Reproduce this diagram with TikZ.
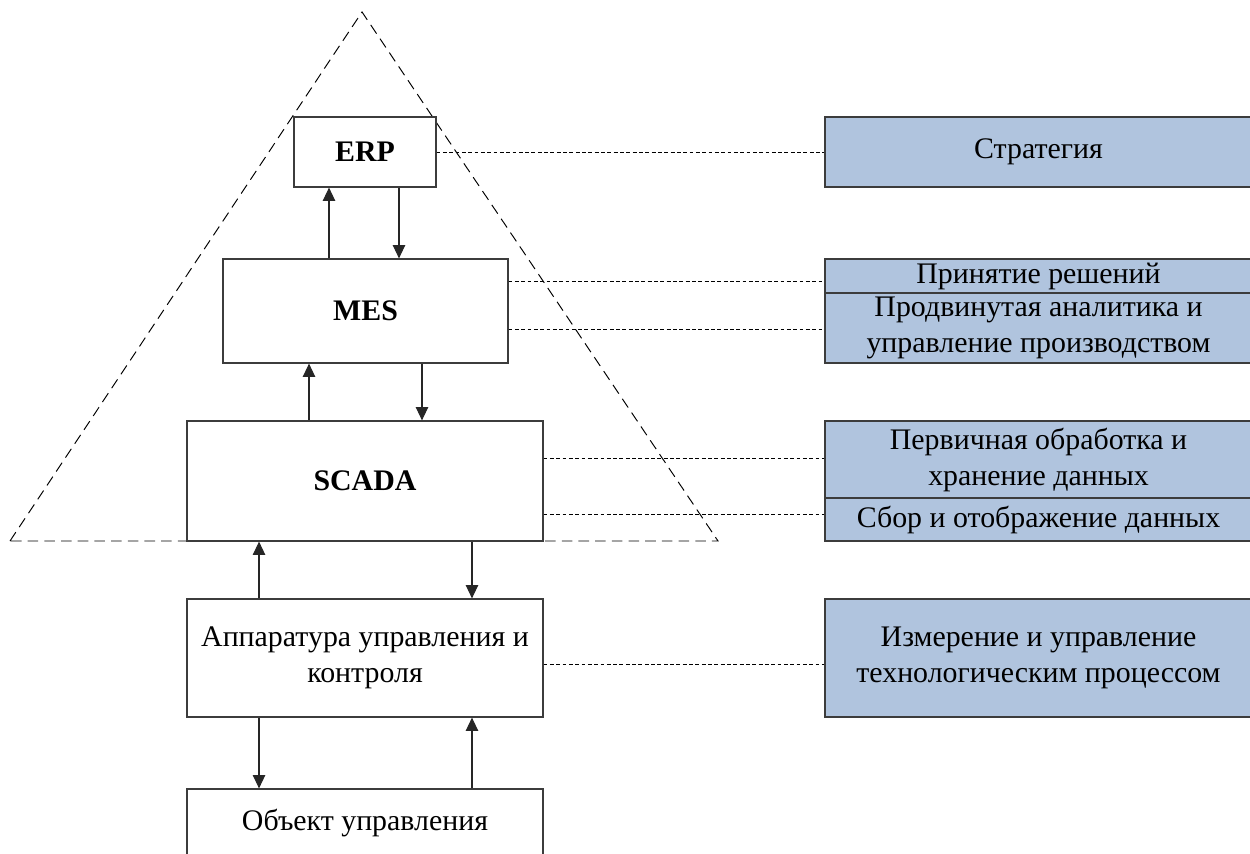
\documentclass[tikz,border=0pt]{standalone}
\usepackage{fontspec}
\setmainfont{Liberation Serif}
\usetikzlibrary{arrows.meta,calc}
\definecolor{blueF}{RGB}{176,196,222}
\definecolor{edgeC}{RGB}{60,60,60}
\tikzset{
  box/.style={draw=edgeC, line width=0.7pt, fill=white, inner sep=0pt, align=center, font=\fontsize{17}{20.5}\selectfont},
  rbox/.style={draw=edgeC, line width=0.7pt, fill=blueF, inner sep=0pt, align=center, minimum width=8.54cm, font=\fontsize{17}{20.5}\selectfont},
  arr/.style={draw=black!85, line width=0.6pt, -{Triangle[length=7.5pt,width=7pt]}},
  dline/.style={draw=black, line width=0.5pt, dash pattern=on 2.2pt off 1.4pt},
  tri/.style={draw=black, line width=0.55pt, dash pattern=on 6pt off 3.5pt}
}
\begin{document}
\begin{tikzpicture}[x=0.02cm,y=-0.02cm]
\useasboundingbox (0,0) rectangle (1250,854);
% pyramid
\coordinate (apex) at (362,12);
\coordinate (bl) at (10,541);
\coordinate (br) at (718,541);
\draw[tri] (bl) -- (apex) -- (br) -- cycle;
% left boxes
\node[box, minimum width=2.84cm, minimum height=1.4cm, font=\fontsize{17}{20.5}\selectfont\bfseries] (erp) at (365,152) {ERP};
\node[box, minimum width=5.7cm, minimum height=2.08cm, font=\fontsize{17}{20.5}\selectfont\bfseries] (mes) at (365.5,311) {MES};
\node[box, minimum width=7.12cm, minimum height=2.4cm, font=\fontsize{17}{20.5}\selectfont\bfseries] (scada) at (365,481) {SCADA};
\node[box, minimum width=7.12cm, minimum height=2.36cm] (app) at (365,658) {Аппаратура управления и\\контроля};
\node[box, minimum width=7.12cm, minimum height=1.38cm] (obj) at (365,823.5) {Объект управления};
% right boxes
\node[rbox, minimum height=1.4cm] (strat) at (1038.5,152) {Стратегия};
\node[rbox, minimum height=0.68cm] (prin) at (1038.5,276) {Принятие решений};
\node[rbox, minimum height=1.4cm] (prod) at (1038.5,328) {Продвинутая аналитика и\\управление производством};
\node[rbox, minimum height=1.54cm] (perv) at (1038.5,459.5) {Первичная обработка и\\хранение данных};
\node[rbox, minimum height=0.86cm] (sbor) at (1038.5,519.5) {Сбор и отображение данных};
\node[rbox, minimum height=2.36cm] (izm) at (1038.5,658) {Измерение и управление\\технологическим процессом};
% dashed links
\coordinate (c1) at ([yshift=-0.1cm]prin.west);
\coordinate (c2) at ([yshift=-0.02cm]prod.west);
\coordinate (c3) at ([yshift=0.03cm]perv.west);
\coordinate (c4) at ([yshift=0.11cm]sbor.west);
\coordinate (c5) at ([yshift=-0.12cm]izm.west);
\draw[dline] (erp.east) -- (strat.west);
\draw[dline] (mes.east |- c1) -- (c1);
\draw[dline] (mes.east |- c2) -- (c2);
\draw[dline] (scada.east |- c3) -- (c3);
\draw[dline] (scada.east |- c4) -- (c4);
\draw[dline] (app.east |- c5) -- (c5);
% arrows
\draw[arr] ([xshift=-0.72cm]erp.south |- mes.north) -- ([xshift=-0.72cm]erp.south);
\draw[arr] ([xshift=0.68cm]erp.south) -- ([xshift=0.68cm]erp.south |- mes.north);
\draw[arr] ([xshift=-1.13cm]mes.south |- scada.north) -- ([xshift=-1.13cm]mes.south);
\draw[arr] ([xshift=1.13cm]mes.south) -- ([xshift=1.13cm]mes.south |- scada.north);
\draw[arr] ([xshift=-2.12cm]scada.south |- app.north) -- ([xshift=-2.12cm]scada.south);
\draw[arr] ([xshift=2.14cm]scada.south) -- ([xshift=2.14cm]scada.south |- app.north);
\draw[arr] ([xshift=-2.12cm]app.south) -- ([xshift=-2.12cm]app.south |- obj.north);
\draw[arr] ([xshift=2.14cm]app.south |- obj.north) -- ([xshift=2.14cm]app.south);
\end{tikzpicture}
\end{document}
